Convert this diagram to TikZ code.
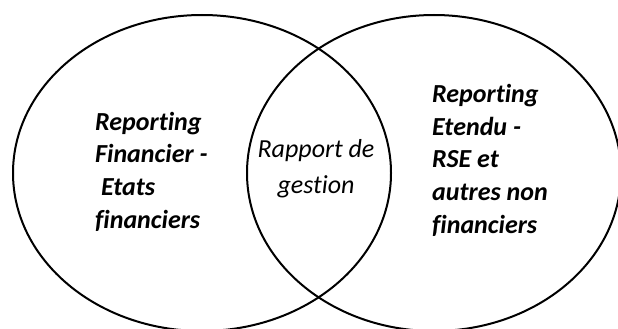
\documentclass[tikz,border=0pt]{standalone}
\usepackage{fontspec}
\setmainfont{Carlito}[Ligatures={NoCommon}]
\usepackage{tikz}

\tikzset{
  venn/.style={line width=2pt},
  bigtxt/.style={inner sep=0pt,align=left,anchor=base west,
    font=\fontsize{26}{32.6}\selectfont\bfseries\itshape},
  midtxt/.style={inner sep=0pt,align=center,anchor=base,
    font=\fontsize{26}{36}\selectfont\itshape}
}

\begin{document}
\begin{tikzpicture}[x=1pt,y=-1pt]

\useasboundingbox (0,0) rectangle (618,329) ;

\draw[venn] (202,173) ellipse [x radius=189, y radius=158] ;
\draw[venn] (434,173) ellipse [x radius=187, y radius=158] ;

\node[bigtxt] (fin) at (95,228) {Reporting\\Financier -\\\ Etats\\financiers} ;
\node[midtxt] (rapport) at (316,193) {Rapport de\\gestion} ;
\node[bigtxt] (rse) at (432,233) {Reporting\\Etendu -\\RSE et\\autres non\\financiers} ;

\end{tikzpicture}
\end{document}
